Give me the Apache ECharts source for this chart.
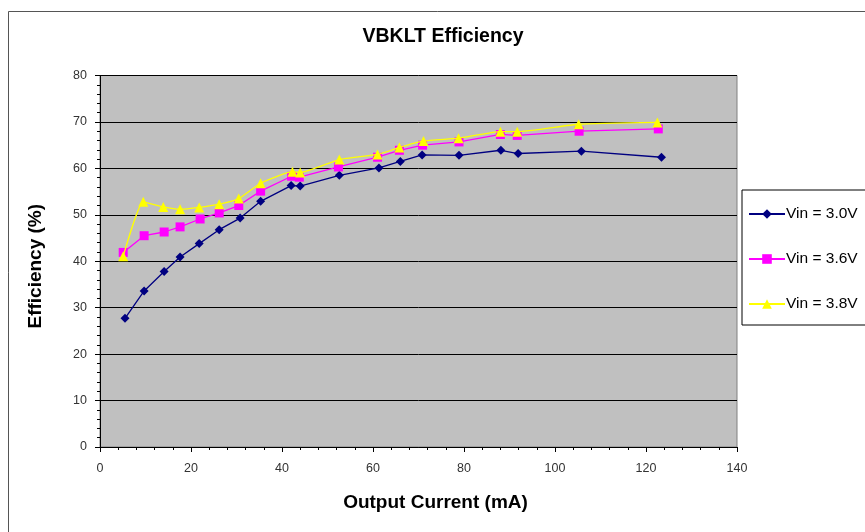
<!DOCTYPE html>
<html>
<head>
<meta charset="utf-8">
<script src="https://cdn.jsdelivr.net/npm/echarts@6/dist/echarts.min.js"></script>
<style>
html,body{margin:0;padding:0;background:#fff;}
#chart{width:865px;height:532px;}
</style>
</head>
<body>
<div id="chart"></div>
<script>
// Data
var seriesNames = ['Vin = 3.0V', 'Vin = 3.6V', 'Vin = 3.8V'];
var xTicks = [0, 20, 40, 60, 80, 100, 120, 140];
var yTicks = [0, 10, 20, 30, 40, 50, 60, 70, 80];

var currentV30 = [5.5, 9.7, 14.1, 17.6, 21.8, 26.2, 30.8, 35.3, 42.0, 44.0, 52.6, 61.3, 66.0, 70.8, 78.9, 88.1, 91.9, 105.8, 123.4];
var effV30     = [27.7, 33.6, 37.8, 40.9, 43.8, 46.8, 49.3, 52.9, 56.3, 56.2, 58.5, 60.1, 61.5, 62.9, 62.8, 63.9, 63.2, 63.7, 62.4];

var currentV36 = [5.1, 9.7, 14.1, 17.6, 22.0, 26.2, 30.5, 35.3, 42.1, 43.8, 52.4, 61.0, 65.8, 70.9, 78.9, 88.0, 91.7, 105.3, 122.7];
var effV36     = [41.9, 45.5, 46.3, 47.4, 49.1, 50.4, 52.0, 55.1, 58.3, 58.1, 60.3, 62.4, 63.9, 65.0, 65.7, 67.3, 67.1, 68.0, 68.5];

var currentV38 = [5.1, 9.5, 13.9, 17.6, 21.8, 26.2, 30.5, 35.3, 42.3, 44.0, 52.6, 61.0, 65.8, 71.1, 78.8, 88.0, 91.7, 105.2, 122.5];
var effV38     = [41.1, 52.8, 51.7, 51.2, 51.6, 52.3, 53.5, 56.8, 59.3, 59.1, 61.9, 63.0, 64.5, 65.9, 66.5, 67.9, 67.9, 69.5, 69.9];

function pairs(xs, ys) {
  return xs.map(function (x, i) { return [x, ys[i]]; });
}

var chart = echarts.init(document.getElementById('chart'), null, {renderer: 'canvas'});

var labelFont = 'Liberation Sans, Arial, sans-serif';

var option = {
  animation: false,
  backgroundColor: '#ffffff',
  title: {
    text: 'VBKLT Efficiency',
    left: 438,
    textAlign: 'center',
    top: 22,
    textStyle: {fontFamily: labelFont, fontSize: 19.5, fontWeight: 'bold', color: '#000'}
  },
  graphic: [{
    type: 'rect',
    shape: {x: 8.5, y: 11.5, width: 900, height: 600},
    style: {fill: 'none', stroke: '#555', lineWidth: 1},
    silent: true,
    z: -1
  }],
  legend: {
    orient: 'vertical',
    left: 742,
    top: 190,
    padding: [16, 60, 13, 6],
    itemGap: 29,
    itemWidth: 36,
    itemHeight: 12,
    borderColor: '#000',
    borderWidth: 1,
    backgroundColor: '#fff',
    textStyle: {fontFamily: labelFont, fontSize: 15.5, color: '#000', padding: [0, 0, 0, -4]},
    data: seriesNames
  },
  grid: {
    left: 100,
    right: 128,
    top: 75.5,
    bottom: 85,
    show: true,
    backgroundColor: '#c0c0c0',
    borderColor: '#808080',
    borderWidth: 1
  },
  xAxis: {
    type: 'value',
    min: xTicks[0],
    max: xTicks[xTicks.length - 1],
    interval: 20,
    name: 'Output Current (mA)',
    nameLocation: 'middle',
    nameGap: 46,
    nameTextStyle: {fontFamily: labelFont, fontSize: 19, fontWeight: 'bold', color: '#000', padding: [0, 0, 0, 34]},
    axisLine: {show: true, onZero: false, lineStyle: {color: '#000', width: 1}},
    axisTick: {show: true, inside: false, length: 5, lineStyle: {color: '#000'}},
    minorTick: {show: true, splitNumber: 5, length: 3, lineStyle: {color: '#000'}},
    axisLabel: {fontFamily: labelFont, fontSize: 12.5, color: '#333', margin: 15},
    splitLine: {show: false}
  },
  yAxis: {
    type: 'value',
    min: yTicks[0],
    max: yTicks[yTicks.length - 1],
    interval: 10,
    name: 'Efficiency (%)',
    nameLocation: 'middle',
    nameGap: 55,
    nameRotate: 90,
    nameTextStyle: {fontFamily: labelFont, fontSize: 19, fontWeight: 'bold', color: '#000', padding: [0, 10, 0, 0]},
    axisLine: {show: true, onZero: false, lineStyle: {color: '#000', width: 1}},
    axisTick: {show: true, inside: false, length: 5, lineStyle: {color: '#000'}},
    minorTick: {show: true, splitNumber: 5, length: 3, lineStyle: {color: '#000'}},
    axisLabel: {fontFamily: labelFont, fontSize: 12.5, color: '#333', margin: 13},
    splitLine: {show: true, lineStyle: {color: '#000', width: 1}}
  },
  series: [
    {
      name: seriesNames[0],
      type: 'line',
      data: pairs(currentV30, effV30),
      symbol: 'diamond',
      symbolSize: 9,
      lineStyle: {color: '#000080', width: 1.3},
      itemStyle: {color: '#000080'},
      z: 2
    },
    {
      name: seriesNames[1],
      type: 'line',
      data: pairs(currentV36, effV36),
      symbol: 'rect',
      symbolSize: 9,
      lineStyle: {color: '#ff00ff', width: 1.3},
      itemStyle: {color: '#ff00ff'},
      z: 3
    },
    {
      name: seriesNames[2],
      type: 'line',
      data: pairs(currentV38, effV38),
      symbol: 'triangle',
      symbolSize: 10,
      smooth: 0.15,
      lineStyle: {color: '#ffff00', width: 1.3},
      itemStyle: {color: '#ffff00'},
      z: 4
    }
  ]
};

chart.setOption(option);
</script>
</body>
</html>
